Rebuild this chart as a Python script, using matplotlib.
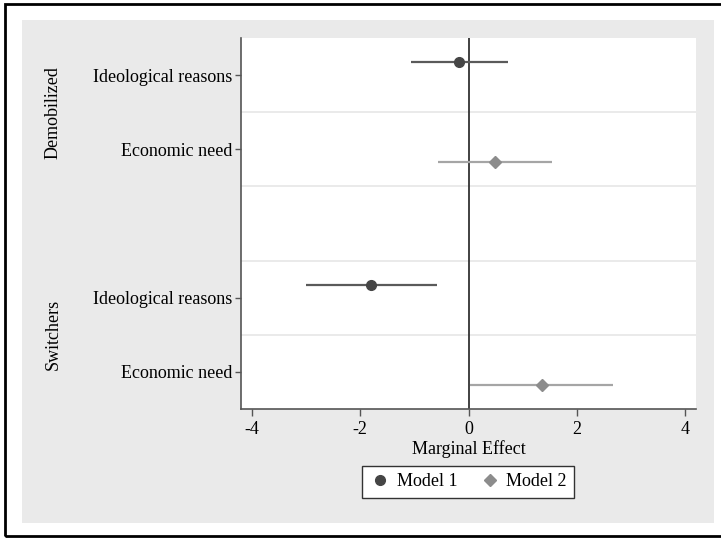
import numpy as np
import matplotlib
matplotlib.use("Agg")
import matplotlib.pyplot as plt
import matplotlib.transforms as mtransforms
from matplotlib.patches import Rectangle
from matplotlib.lines import Line2D

# rows top to bottom (3 is the empty gap between groups)
row_labels = ["Ideological reasons", "Economic need", "Ideological reasons", "Economic need"]
row_pos = [1, 2, 4, 5]
groups = ["Demobilized", "Switchers"]
group_pos = [1.5, 4.5]

# Model 1 (ideological reasons rows)
m1_pos = [1, 4]
m1_est = [-0.18, -1.80]
m1_lo = [-1.06, -3.00]
m1_hi = [0.72, -0.58]

# Model 2 (economic need rows)
m2_pos = [2, 5]
m2_est = [0.49, 1.35]
m2_lo = [-0.57, 0.02]
m2_hi = [1.55, 2.67]

xticks = [-4, -2, 0, 2, 4]

W, H = 721, 539
FS = 13
plt.rcParams['font.family'] = ['Liberation Serif', 'DejaVu Serif']
fig = plt.figure(figsize=(W / 100, H / 100), dpi=100)

# outer frame and grey panel
fig.patches.append(Rectangle((5 / W, 1 - 536 / H), 730 / W, 532 / H, transform=fig.transFigure,
                             fill=False, edgecolor="black", linewidth=2, zorder=-5))
fig.patches.append(Rectangle((22 / W, 1 - 523 / H), 692 / W, 503 / H, transform=fig.transFigure,
                             facecolor="#eaeaea", edgecolor="none", zorder=-10))

ax = fig.add_axes([241 / W, 1 - 409 / H, (696 - 241) / W, (409 - 38) / H])
ax.set_facecolor("white")

for y in [1.5, 2.5, 3.5, 4.5]:
    ax.axhline(y, color="#e6e6e6", lw=1.2, zorder=0)
ax.axvline(0, color="#333333", lw=1.3, zorder=1)

off = 0.17
c1, c1l = "#454545", "#5a5a5a"
c2, c2l = "#8c8c8c", "#a5a5a5"
y1 = np.array(m1_pos) - off
y2 = np.array(m2_pos) + off
ax.hlines(y1, m1_lo, m1_hi, color=c1l, lw=1.6, zorder=2)
ax.plot(m1_est, y1, "o", color=c1, ms=7, zorder=3)
ax.hlines(y2, m2_lo, m2_hi, color=c2l, lw=1.6, zorder=2)
ax.plot(m2_est, y2, "D", color=c2, ms=6.5, zorder=3)

ax.set_xlim(-4.2, 4.2)
ax.set_ylim(5.5, 0.5)
ax.set_xticks(xticks)
ax.set_xticklabels([str(t) for t in xticks], fontsize=FS)
ax.set_yticks(row_pos)
ax.set_yticklabels(row_labels, fontsize=FS)
ax.tick_params(axis="both", direction="out", length=4, width=1, color="#555555", pad=2)
ax.tick_params(axis="x", length=5, pad=4)
for s in ["top", "right"]:
    ax.spines[s].set_visible(False)
for s in ["left", "bottom"]:
    ax.spines[s].set_color("#555555")
    ax.spines[s].set_linewidth(1.2)
ax.set_xlabel("Marginal Effect", fontsize=FS, labelpad=1)

# group labels: x in figure coords, y in data coords
tr = mtransforms.blended_transform_factory(fig.transFigure, ax.transData)
for g, p in zip(groups, group_pos):
    ax.text(53 / W, p, g, transform=tr, fontsize=FS, rotation=90,
            ha="center", va="center", clip_on=False)

handles = [Line2D([], [], marker="o", ls="none", color=c1, ms=7, label="Model 1"),
           Line2D([], [], marker="D", ls="none", color=c2, ms=6.5, label="Model 2")]
leg = fig.legend(handles=handles, loc="center", bbox_to_anchor=(468 / W, 1 - 482 / H),
                 ncol=2, fontsize=FS, frameon=True, fancybox=False, handletextpad=0.3,
                 columnspacing=1.2, borderpad=0.4, handlelength=1.2)
leg.get_frame().set_edgecolor("#333333")
leg.get_frame().set_linewidth(1.0)
leg.get_frame().set_alpha(1)

fig.savefig("out.png", dpi=100)
